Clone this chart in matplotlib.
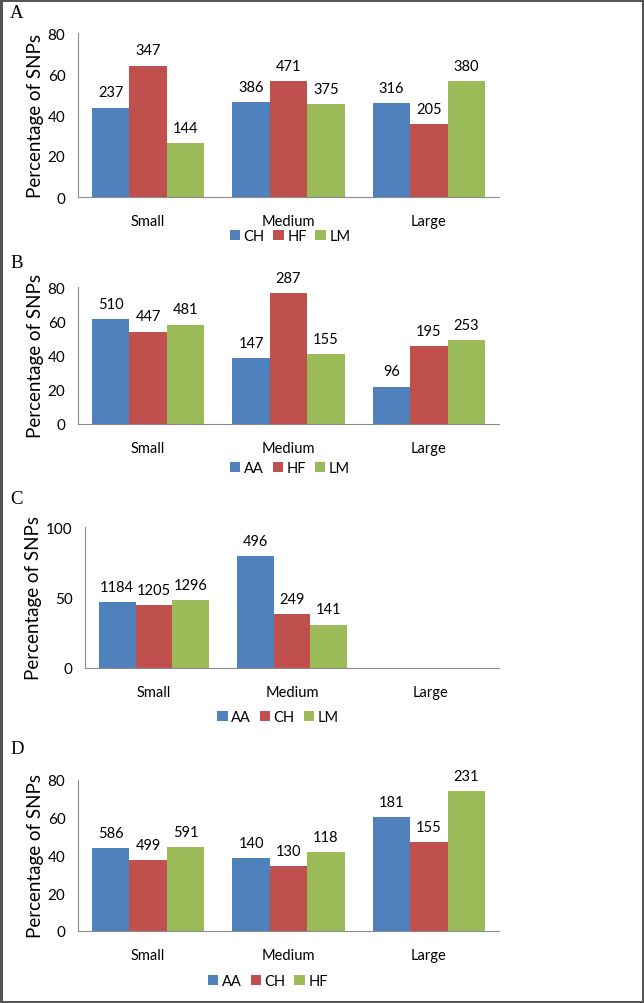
import numpy as np
import matplotlib
matplotlib.use("Agg")
import matplotlib.pyplot as plt

plt.rcParams['font.family'] = ['Lato', 'DejaVu Sans']

categories = ["Small", "Medium", "Large"]

# panel A
a_series = ["CH", "HF", "LM"]
a_pct = [[43.5, 46.2, 45.9], [64.1, 56.6, 35.5], [26.3, 45.4, 56.6]]
a_counts = [[237, 386, 316], [347, 471, 205], [144, 375, 380]]

# panel B
b_series = ["AA", "HF", "LM"]
b_pct = [[61.3, 38.5, 21.8], [53.9, 76.3, 45.5], [58.0, 40.7, 49.0]]
b_counts = [[510, 147, 96], [447, 287, 195], [481, 155, 253]]

# panel C (no Large SNPs)
c_series = ["AA", "CH", "LM"]
c_pct = [[46.8, 79.4, 0], [44.4, 38.0, 0], [47.9, 30.7, 0]]
c_counts = [[1184, 496, None], [1205, 249, None], [1296, 141, None]]

# panel D
d_series = ["AA", "CH", "HF"]
d_pct = [[44.0, 38.5, 60.2], [37.5, 34.3, 47.0], [44.3, 41.9, 74.2]]
d_counts = [[586, 140, 181], [499, 130, 155], [591, 118, 231]]

colors = ["#4F81BD", "#C0504D", "#9BBB59"]
W, H = 644, 1004

fig = plt.figure(figsize=(W / 100, H / 100), dpi=100, linewidth=2.5, edgecolor="#555555")


def px_axes(left, right, top, bottom):
    return fig.add_axes([left / W, 1 - bottom / H, (right - left) / W, (bottom - top) / H])


def panel(box, letter, letter_y, series, pct, counts, ymax, yticks, legend_xy):
    ax = px_axes(*box)
    x = np.arange(len(categories))
    w = 0.8 / 3
    for i, name in enumerate(series):
        pos = x + (i - 1) * w
        ax.bar(pos, pct[i], w, color=colors[i], label=name)
        for p, v, c in zip(pos, pct[i], counts[i]):
            if c is None:
                continue
            ax.annotate(str(c), (p, v), xytext=(0, 6), textcoords="offset points",
                        ha="center", va="bottom", fontsize=10.5)
    ax.set_xlim(-0.5, 2.5)
    ax.set_ylim(0, ymax)
    ax.set_yticks(yticks)
    ax.set_xticks(x)
    ax.set_xticklabels(categories)
    ax.tick_params(length=0, labelsize=10.5)
    ax.tick_params(axis="y", pad=9, labelsize=11)
    ax.tick_params(axis="x", pad=12)
    for s in ["top", "right"]:
        ax.spines[s].set_visible(False)
    for s in ["left", "bottom"]:
        ax.spines[s].set_color("#8c8c8c")
    ax.set_ylabel("Percentage of SNPs", fontsize=13.5, labelpad=3)
    fig.text(10 / W, 1 - letter_y / H, letter, family="Liberation Serif",
             fontsize=13.5, va="center")
    fig.legend(*ax.get_legend_handles_labels(), loc="center",
               bbox_to_anchor=(legend_xy[0] / W, 1 - legend_xy[1] / H),
               ncol=3, frameon=False, fontsize=10.5, handlelength=0.7,
               handleheight=0.7, handletextpad=0.25, columnspacing=0.6)
    return ax


panel((78, 499, 34, 198), "A", 14, a_series, a_pct, a_counts, 80, [0, 20, 40, 60, 80], (290, 237))
panel((78, 499, 288, 425), "B", 264, b_series, b_pct, b_counts, 80, [0, 20, 40, 60, 80], (290, 469))
panel((85, 499, 528, 669), "C", 500, c_series, c_pct, c_counts, 100, [0, 50, 100], (278, 718))
panel((78, 499, 781, 932), "D", 750, d_series, d_pct, d_counts, 80, [0, 20, 40, 60, 80], (268, 982))

fig.savefig("out.png", dpi=100)
